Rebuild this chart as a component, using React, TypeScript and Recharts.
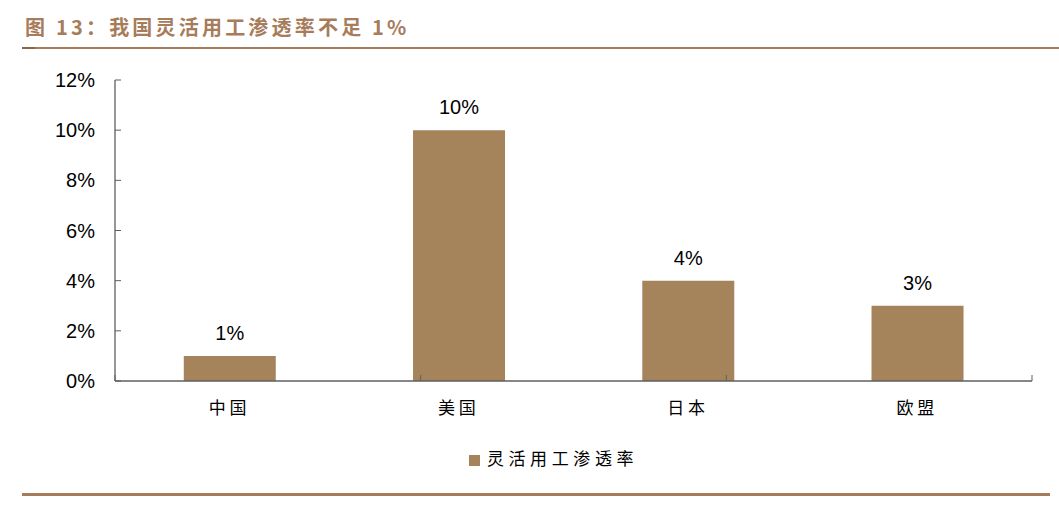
import React from "react";
import {
  BarChart,
  Bar,
  XAxis,
  YAxis,
  Legend,
  LabelList,
} from "recharts";

const categories = ["中国", "美国", "日本", "欧盟"];
const penetration = [0.01, 0.1, 0.04, 0.03];
const yTicks = [0, 0.02, 0.04, 0.06, 0.08, 0.1, 0.12];
const boundaryTicks = [0, 1, 2, 3, 4];

const seriesName = "灵活用工渗透率";
const barColor = "#A5835B";
const lineColor = "#A67C5A";
const axisColor = "#5f5f5f";

const data = categories.map((name, i) => ({ name, value: penetration[i] }));

const pct = (v: number) => `${Math.round(v * 100)}%`;

export default function App() {
  return (
    <div
      style={{
        position: "absolute",
        left: 0,
        top: 0,
        width: 1059,
        height: 507,
        background: "#fff",
        fontFamily: "'Liberation Sans', Arial, sans-serif",
      }}
    >
      <div
        style={{
          position: "absolute",
          left: 25,
          top: 12,
          fontFamily: "'Noto Sans CJK SC', sans-serif",
          fontWeight: 700,
          fontSize: 20,
          letterSpacing: 3.2,
          color: lineColor,
          lineHeight: "30px",
          whiteSpace: "nowrap",
        }}
      >
        图 13：我国灵活用工渗透率不足 1%
      </div>
      <div
        style={{
          position: "absolute",
          left: 22,
          top: 47,
          width: 1037,
          height: 2,
          background: lineColor,
        }}
      />
      <div
        style={{
          position: "absolute",
          left: 22,
          top: 47,
          width: 13,
          height: 2,
          background: "#8c6646",
        }}
      />

      <BarChart
        width={1059}
        height={507}
        data={data}
        margin={{ top: 80, right: 27, bottom: 85, left: 55 }}
        barCategoryGap="30%"
      >
        <XAxis
          xAxisId="axisB"
          dataKey="name"
          height={40}
          axisLine={false}
          tickLine={false}
          tickSize={0}
          tickMargin={20}
          tick={{
            fill: "#000",
            fontSize: 17,
            letterSpacing: 4,
            fontFamily: "'Noto Sans CJK SC', sans-serif",
          }}
        />
        <XAxis
          xAxisId="axisA"
          type="number"
          domain={[0, 4]}
          ticks={boundaryTicks}
          allowDataOverflow
          height={1}
          tickFormatter={() => ""}
          tickSize={-6}
          axisLine={{ stroke: axisColor, strokeWidth: 1.3 }}
          tickLine={{ stroke: axisColor }}
        />
        <YAxis
          domain={[0, 0.12]}
          ticks={yTicks}
          width={60}
          tickFormatter={pct}
          tickSize={-6}
          tickMargin={26}
          axisLine={{ stroke: axisColor, strokeWidth: 1.3 }}
          tickLine={{ stroke: axisColor }}
          tick={{ fill: "#000", fontSize: 20 }}
        />
        <Legend
          verticalAlign="middle"
          align="center"
          iconType="square"
          iconSize={11}
          wrapperStyle={{ top: 445, left: 29, width: 1059 }}
          formatter={(value: string) => (
            <span
              style={{
                color: "#000",
                fontSize: 17,
                letterSpacing: 4.6,
                fontFamily: "'Noto Sans CJK SC', sans-serif",
                marginLeft: 3,
              }}
            >
              {value}
            </span>
          )}
        />
        <Bar
          xAxisId="axisB"
          dataKey="value"
          name={seriesName}
          fill={barColor}
          isAnimationActive={false}
        >
          <LabelList
            dataKey="value"
            position="top"
            offset={16}
            formatter={(v: number) => pct(v)}
            style={{ fill: "#000", fontSize: 20 }}
          />
        </Bar>
      </BarChart>

      <div
        style={{
          position: "absolute",
          left: 22,
          top: 493,
          width: 1028,
          height: 3,
          background: lineColor,
        }}
      />
    </div>
  );
}
